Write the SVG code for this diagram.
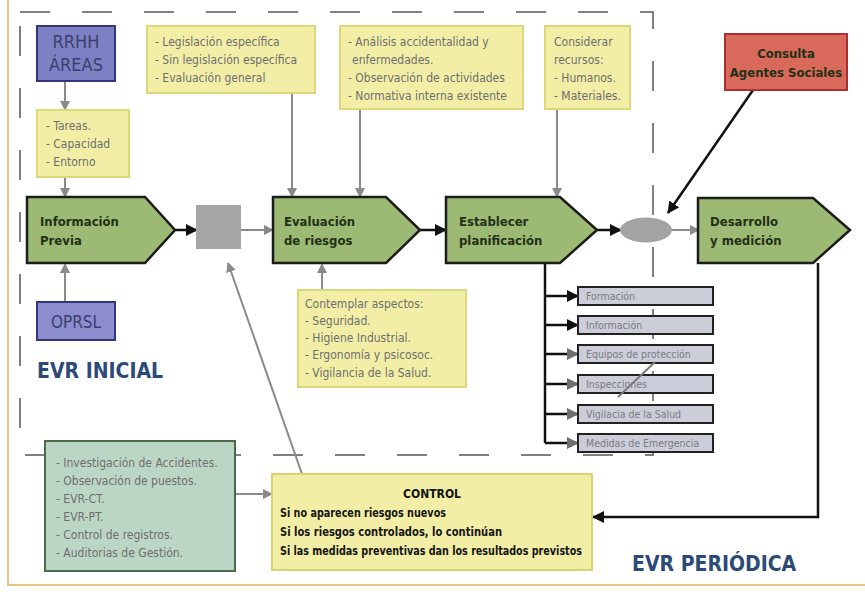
<svg xmlns="http://www.w3.org/2000/svg" width="865" height="592" viewBox="0 0 865 592">
<defs>
<style>
.t{font-family:"DejaVu Sans Condensed","DejaVu Sans",sans-serif;font-size:12px;fill:#6e6e6e}
.b{font-family:"DejaVu Sans Condensed","DejaVu Sans",sans-serif;font-weight:bold;font-size:13px;fill:#233018}
.s{font-family:"DejaVu Sans Condensed","DejaVu Sans",sans-serif;font-size:10.5px;fill:#7a7a82}
.c{font-family:"DejaVu Sans Condensed","DejaVu Sans",sans-serif;font-weight:bold;font-size:12px;fill:#151515}
.big{font-family:"DejaVu Sans Condensed","DejaVu Sans",sans-serif;font-weight:bold;font-size:21px;fill:#2c4a78}
.pent{fill:#9cba74;stroke:#1c1c1c;stroke-width:2.5}
.yel{fill:#f2eea6;stroke:#dcd878;stroke-width:2}
.pur{fill:#7e80c4;stroke:#34367a;stroke-width:2}
.sub{fill:#cbced8;stroke:#222;stroke-width:2}
.g{stroke:#8a8a8a;stroke-width:2;fill:none}
.k{stroke:#111;stroke-width:2.5;fill:none}
</style>
<marker id="ag" markerWidth="10" markerHeight="10" refX="9" refY="5" orient="auto" markerUnits="userSpaceOnUse"><path d="M0,0 L10,5 L0,10 Z" fill="#8a8a8a"/></marker>
<marker id="ak" markerWidth="12" markerHeight="12" refX="11" refY="6" orient="auto" markerUnits="userSpaceOnUse"><path d="M0,0 L12,6 L0,12 Z" fill="#111"/></marker>
<marker id="akg" markerWidth="12" markerHeight="12" refX="11" refY="6" orient="auto" markerUnits="userSpaceOnUse"><path d="M0,0 L12,6 L0,12 Z" fill="#6e6e6e"/></marker>
</defs>
<rect width="865" height="592" fill="#ffffff"/>
<path d="M8,0 V585 H865" fill="none" stroke="#e8c48a" stroke-width="2"/>
<rect x="20" y="12" width="633" height="443" fill="none" stroke="#808080" stroke-width="2" stroke-dasharray="30 32"/>

<g id="connectors">
<line class="g" x1="65" y1="81" x2="65" y2="110" marker-end="url(#ag)"/>
<line class="g" x1="65" y1="177" x2="65" y2="197" marker-end="url(#ag)"/>
<line class="g" x1="65" y1="302" x2="65" y2="264" marker-end="url(#ag)"/>
<line class="k" x1="175" y1="230" x2="197" y2="230" marker-end="url(#ak)"/>
<line class="g" x1="241" y1="230" x2="273" y2="230" marker-end="url(#ag)"/>
<line class="k" x1="420" y1="230" x2="446" y2="230" marker-end="url(#ak)"/>
<line class="k" x1="597" y1="230" x2="621" y2="230" marker-end="url(#ak)"/>
<line class="g" x1="672" y1="230" x2="699" y2="230" marker-end="url(#ag)"/>
<line class="g" x1="292" y1="93" x2="292" y2="197" marker-end="url(#ag)"/>
<line class="g" x1="360" y1="109" x2="360" y2="197" marker-end="url(#ag)"/>
<line class="g" x1="557" y1="109" x2="557" y2="197" marker-end="url(#ag)"/>
<line class="g" x1="322" y1="290" x2="322" y2="264" marker-end="url(#ag)"/>
<line class="k" x1="753" y1="90" x2="668" y2="213" marker-end="url(#ak)"/>
<line class="g" x1="302" y1="474" x2="228" y2="263" marker-end="url(#ag)"/>
<line class="g" x1="235" y1="494" x2="272" y2="494" marker-end="url(#ag)"/>
<polyline class="k" points="818,263 818,517 593,517" marker-end="url(#ak)"/>
<path class="k" d="M545,263 V443" stroke-width="2"/>
<line class="k" x1="545" y1="296" x2="578" y2="296" stroke-width="2" marker-end="url(#ak)"/>
<line class="k" x1="545" y1="325" x2="578" y2="325" stroke-width="2" marker-end="url(#ak)"/>
<line class="k" x1="545" y1="354" x2="578" y2="354" stroke-width="2" marker-end="url(#akg)"/>
<line class="k" x1="545" y1="384" x2="578" y2="384" stroke-width="2" marker-end="url(#akg)"/>
<line class="k" x1="545" y1="414" x2="578" y2="414" stroke-width="2" marker-end="url(#akg)"/>
<line class="k" x1="545" y1="443" x2="578" y2="443" stroke-width="2" marker-end="url(#akg)"/>
</g>

<g id="rrhh"><rect class="pur" x="37" y="26" width="78" height="55"/><text x="76" y="48" text-anchor="middle" font-family="DejaVu Sans Condensed,sans-serif" font-size="18" fill="#3a3f6e">RRHH</text><text x="76" y="71" text-anchor="middle" font-family="DejaVu Sans Condensed,sans-serif" font-size="18" fill="#3a3f6e">ÁREAS</text></g>
<g id="tareas"><rect class="yel" x="37" y="110" width="92" height="67"/><text class="t" x="46" y="130">- Tareas.</text><text class="t" x="46" y="148">- Capacidad</text><text class="t" x="46" y="166">- Entorno</text></g>
<g id="oprsl"><rect x="37" y="302" width="78" height="38" fill="#8c8ed0" stroke="#34367a" stroke-width="2"/><text x="76" y="328" text-anchor="middle" font-family="DejaVu Sans Condensed,sans-serif" font-size="17" fill="#3a3f6e">OPRSL</text></g>
<g id="legislacion"><rect class="yel" x="147" y="26" width="168" height="67"/><text class="t" x="155" y="46">- Legislación específica</text><text class="t" x="155" y="64">- Sin legislación específica</text><text class="t" x="155" y="82">- Evaluación general</text></g>
<g id="analisis"><rect class="yel" x="340" y="26" width="183" height="83"/><text class="t" x="348" y="46">- Análisis accidentalidad y</text><text class="t" x="352" y="64">enfermedades.</text><text class="t" x="348" y="82">- Observación de actividades</text><text class="t" x="348" y="100">- Normativa interna existente</text></g>
<g id="considerar"><rect class="yel" x="545" y="26" width="85" height="83"/><text class="t" x="554" y="46">Considerar</text><text class="t" x="554" y="64">recursos:</text><text class="t" x="554" y="82">- Humanos.</text><text class="t" x="554" y="100">- Materiales.</text></g>
<g id="consulta"><rect x="725" y="34" width="122" height="56" fill="#d9695a" stroke="#a83030" stroke-width="2"/><text class="b" x="786" y="58" text-anchor="middle" font-size="12.5" fill="#3a1a12">Consulta</text><text class="b" x="786" y="77" text-anchor="middle" font-size="12.5" fill="#3a1a12">Agentes Sociales</text></g>

<g id="info-previa"><path class="pent" d="M27,197 H145 L175,230 L145,263 H27 Z"/><text class="b" x="40" y="226">Información</text><text class="b" x="40" y="245">Previa</text></g>
<g id="square"><rect x="196" y="205" width="45" height="44" fill="#a6a6a6"/></g>
<g id="evaluacion"><path class="pent" d="M273,197 H386 L420,230 L386,263 H273 Z"/><text class="b" x="284" y="226">Evaluación</text><text class="b" x="284" y="245">de riesgos</text></g>
<g id="establecer"><path class="pent" d="M446,197 H560 L597,230 L560,263 H446 Z"/><text class="b" x="459" y="226">Establecer</text><text class="b" x="459" y="245">planificación</text></g>
<g id="ellipse"><ellipse cx="646" cy="230" rx="26" ry="12.5" fill="#a3a3a3"/></g>
<g id="desarrollo"><path class="pent" d="M698,198 H813 L850,230 L813,263 H698 Z"/><text class="b" x="710" y="226">Desarrollo</text><text class="b" x="710" y="245">y medición</text></g>

<g id="contemplar"><rect class="yel" x="298" y="290" width="168" height="97"/><text class="t" x="305" y="308">Contemplar aspectos:</text><text class="t" x="305" y="325">- Seguridad.</text><text class="t" x="305" y="342">- Higiene Industrial.</text><text class="t" x="305" y="359">- Ergonomía y psicosoc.</text><text class="t" x="305" y="377">- Vigilancia de la Salud.</text></g>

<g id="formacion"><rect class="sub" x="578" y="287" width="135" height="18"/><text class="s" x="586" y="300">Formación</text></g>
<g id="informacion"><rect class="sub" x="578" y="316" width="135" height="18"/><text class="s" x="586" y="329">Información</text></g>
<g id="equipos"><rect class="sub" x="578" y="345" width="135" height="18"/><text class="s" x="586" y="358">Equipos de protección</text></g>
<g id="inspecciones"><rect class="sub" x="578" y="375" width="135" height="18"/><text class="s" x="586" y="388">Inspecciones</text></g>
<g id="vigilancia"><rect class="sub" x="578" y="405" width="135" height="18"/><text class="s" x="586" y="418">Vigilacia de la Salud</text></g>
<g id="medidas"><rect class="sub" x="578" y="434" width="135" height="18"/><text class="s" x="586" y="447">Medidas de Emergencia</text></g>
<line x1="618" y1="397" x2="655" y2="362" stroke="#7a7a7a" stroke-width="2"/>

<g id="evr-inicial"><text class="big" x="37" y="378">EVR INICIAL</text></g>

<g id="investigacion"><rect x="45" y="441" width="190" height="130" fill="#bcd6c6" stroke="#4a6a4a" stroke-width="2"/><text class="t" x="56" y="467">- Investigación de Accidentes.</text><text class="t" x="56" y="485">- Observación de puestos.</text><text class="t" x="56" y="503">- EVR-CT.</text><text class="t" x="56" y="521">- EVR-PT.</text><text class="t" x="56" y="539">- Control de registros.</text><text class="t" x="56" y="557">- Auditorias de Gestión.</text></g>

<g id="control"><rect x="272" y="474" width="320" height="96" fill="#f2eea6" stroke="#d8d470" stroke-width="2"/><text class="c" x="432" y="498" text-anchor="middle">CONTROL</text><text class="c" x="280" y="517" textLength="166" lengthAdjust="spacingAndGlyphs">Si no aparecen riesgos nuevos</text><text class="c" x="280" y="536" textLength="222" lengthAdjust="spacingAndGlyphs">Si los riesgos controlados, lo continúan</text><text class="c" x="280" y="555" textLength="302" lengthAdjust="spacingAndGlyphs">Si las medidas preventivas dan los resultados previstos</text></g>

<g id="evr-periodica"><text class="big" x="632" y="571">EVR PERIÓDICA</text></g>
</svg>
